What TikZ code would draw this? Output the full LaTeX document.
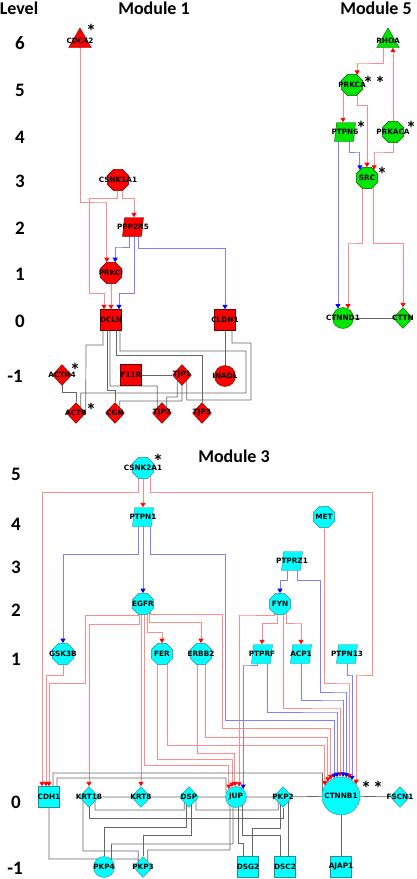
\documentclass[tikz,border=0pt]{standalone}
\usepackage{fontspec}
\setmainfont{Carlito}
\newfontfamily\lblfont{DejaVu Sans}
\usetikzlibrary{arrows.meta,shapes.geometric,positioning}
\pgfdeclarelayer{bg}
\pgfsetlayers{bg,main}
\definecolor{cyanfill}{RGB}{0,255,255}
\definecolor{cyandraw}{RGB}{40,140,150}
\definecolor{greenfill}{RGB}{0,230,0}
\definecolor{redfill}{RGB}{255,0,0}

\tikzset{
  lab/.style={font=\lblfont\bfseries\fontsize{7.3}{7.3}\selectfont, inner sep=0pt},
  nm/.style={label={[lab]center:#1}},
  oct/.style={regular polygon, regular polygon sides=8, minimum size=23pt, inner sep=0pt},
  tri/.style={regular polygon, regular polygon sides=3, minimum size=26pt, inner sep=0pt},
  sq/.style={rectangle, minimum size=21pt, inner sep=0pt},
  dia/.style={diamond, minimum width=19pt, minimum height=21pt, inner sep=0pt},
  cir/.style={circle, minimum size=21pt, inner sep=0pt},
  par/.style={trapezium, trapezium left angle=83, trapezium right angle=97,
    trapezium stretches=true, minimum width=21pt, minimum height=19pt, inner sep=1pt},
  mI/.style={fill=redfill, draw=red!40!black, line width=0.4pt},
  mV/.style={fill=greenfill, draw=green!35!black, line width=0.4pt},
  mIII/.style={fill=cyanfill, draw=cyandraw, line width=0.4pt},
  rl/.style={draw=red!45, line width=0.9pt, -{Triangle[width=5pt,length=4.5pt,color=red]}},
  bl/.style={draw=blue!50, line width=0.9pt, -{Triangle[width=5pt,length=4.5pt,color=blue]}},
  gl/.style={draw=black!60, line width=0.7pt},
  hd/.style={font=\bfseries\fontsize{18}{18}\selectfont, inner sep=0pt},
  lvl/.style={font=\bfseries\fontsize{19}{19}\selectfont, inner sep=0pt},
  ast/.style={font=\bfseries\fontsize{20}{20}\selectfont, inner sep=0pt},
}

\begin{document}
\begin{tikzpicture}[x=1pt,y=-1pt]
\useasboundingbox (0,0) rectangle (416,879);

% headings
\node[hd] (hlevel) at (19,8) {Level};
\node[hd] (hmodI) at (154,8) {Module 1};
\node[hd] (hmodV) at (376,8) {Module 5};
\node[hd] (hmodIII) at (234,456) {Module 3};

% levels
\node[lvl] (lvI6) at (20,43) {6};
\node[lvl] (lvI5) at (20,90) {5};
\node[lvl] (lvI4) at (20,137) {4};
\node[lvl] (lvI3) at (20,181) {3};
\node[lvl] (lvI2) at (20,228) {2};
\node[lvl] (lvI1) at (20,274) {1};
\node[lvl] (lvI0) at (20,321) {0};
\node[lvl] (lvIm) at (15,376) {-1};
\node[lvl] (lvIII5) at (16,474) {5};
\node[lvl] (lvIII4) at (16,524) {4};
\node[lvl] (lvIII3) at (16,567) {3};
\node[lvl] (lvIII2) at (16,610) {2};
\node[lvl] (lvIII1) at (16,659) {1};
\node[lvl] (lvIII0) at (16,802) {0};
\node[lvl] (lvIIIm) at (15,868) {-1};

% module 1
\node[tri,mI,nm=CDC42] (cdc42) at (80,41) {};
\node[oct,mI,nm=CSNK1A1] (csnk1a1) at (118,180) {};
\node[par,mI,nm=PPP2R5] (ppp2r5) at (133,227) {};
\node[oct,mI,nm=PRKCI] (prkci) at (111,273) {};
\node[sq,mI,nm=OCLN] (ocln) at (111,320) {};
\node[sq,mI,nm=CLDN1] (cldn1) at (225,320) {};
\node[dia,mI,nm=ACTN4] (actn4) at (62,375) {};
\node[sq,mI,nm=F11R] (f11r) at (131,375) {};
\node[dia,mI,nm=TJP1] (tjp1) at (182,375) {};
\node[cir,mI,nm=INADL] (inadl) at (225,376) {};
\node[dia,mI,nm=ACTB] (actb) at (76,413) {};
\node[dia,mI,nm=CGN] (cgn) at (115,413) {};
\node[dia,mI,nm=TJP2] (tjp2) at (162,413) {};
\node[dia,mI,nm=TJP3] (tjp3) at (202,413) {};

% module 5
\node[tri,mV,nm=RHOA] (rhoa) at (388,41) {};
\node[oct,mV,nm=PRKCA] (prkca) at (352,85) {};
\node[par,mV,nm=PTPN6] (ptpn6) at (345,132) {};
\node[oct,mV,nm=PRKACA] (prkaca) at (393,132) {};
\node[oct,mV,nm=SRC] (src) at (367,178) {};
\node[cir,mV,nm=CTNND1] (ctnnd1) at (343,318) {};
\node[dia,mV,nm=CTTN] (cttn) at (403,318) {};

% module 3
\node[oct,mIII,nm=CSNK2A1] (csnk2a1) at (143,468) {};
\node[par,mIII,nm=PTPN1] (ptpn1) at (143,517) {};
\node[oct,mIII,nm=MET] (met) at (324,517) {};
\node[par,mIII,nm=PTPRZ1] (ptprz1) at (292,561) {};
\node[oct,mIII,nm=EGFR] (egfr) at (143,604) {};
\node[oct,mIII,nm=FYN] (fyn) at (280,604) {};
\node[oct,mIII,nm=GSK3B] (gsk3b) at (63,654) {};
\node[oct,mIII,nm=FER] (fer) at (162,654) {};
\node[oct,mIII,nm=ERBB2] (erbb2) at (201,654) {};
\node[par,mIII,nm=PTPRF] (ptprf) at (262,654) {};
\node[par,mIII,nm=ACP1] (acp1) at (301,654) {};
\node[par,mIII,nm=PTPN13] (ptpn13) at (347,654) {};
\node[sq,mIII,nm=CDH1] (cdh1) at (49,797) {};
\node[dia,mIII,nm=KRT18] (krt18) at (89,797) {};
\node[dia,mIII,nm=KRT8] (krt8) at (141,797) {};
\node[dia,mIII,nm=DSP] (dsp) at (189,797) {};
\node[cir,mIII,nm=JUP] (jup) at (236,797) {};
\node[dia,mIII,nm=PKP2] (pkp2) at (283,797) {};
\node[circle,minimum size=38pt,inner sep=0pt,mIII,nm=CTNNB1] (ctnnb1) at (341,796) {};
\node[dia,mIII,nm=FSCN1] (fscn1) at (400,797) {};
\node[cir,mIII,nm=PKP4] (pkp4) at (104,867) {};
\node[dia,mIII,nm=PKP3] (pkp3) at (143,867) {};
\node[sq,mIII,nm=DSG2] (dsg2) at (248,867) {};
\node[sq,mIII,nm=DSC2] (dsc2) at (285,867) {};
\node[sq,mIII,nm=AJAP1] (ajap1) at (341,867) {};

% stars
\node[ast] (sCdc) at (91,31) {*};
\node[ast] (sActn) at (75,370) {*};
\node[ast] (sActb) at (91,410) {*};
\node[ast] (sPrkca) at (374,83) {*\kern2pt*};
\node[ast] (sPtpn) at (361,128) {*};
\node[ast] (sPrkaca) at (411,128) {*};
\node[ast] (sSrc) at (382,174) {*};
\node[ast] (sCsnk) at (158,461) {*};
\node[ast] (sCtnnb) at (372,788) {*\kern2pt*};

\begin{pgfonlayer}{bg}
% module 1
\draw[rl] (cdc42.center) |- (107,202) -| (prkci.111);
\draw[rl] ([xshift=-1pt]csnk1a1.center) |- (89,198) |- (104,293) -| ([xshift=-7pt]ocln.north);
\draw[rl] ([xshift=4pt]csnk1a1.center) |- (134,198) -| ([xshift=1pt]ppp2r5.north);
\draw[rl] (prkci.center) -- (ocln.north);
\draw[bl] ([xshift=-4pt]ppp2r5.center) |- (115,247) -| (prkci.69);
\draw[bl] ([xshift=1pt]ppp2r5.center) |- (119,293) -| ([xshift=8pt]ocln.north);
\draw[bl] ([xshift=5pt]ppp2r5.center) |- (225,248) -| (cldn1.north);

\draw[gl] ([xshift=-8pt]ocln.center) |- (86,345) -- (actb.east);
\draw[gl] (actn4.center) |- (76,392) -- (actb.north);
\draw[gl] ([xshift=-4pt]ocln.center) |- (115,390) -- (cgn.north);
\draw[gl] ([xshift=-1pt]ocln.center) |- (157.25,386) -- (tjp2.north west);
\draw[gl] ([xshift=5pt]ocln.center) |- (202,355) -- (tjp3.north);
\draw[gl] ([xshift=9pt]ocln.center) |- (246,351) |- (80.75,393) -- (actb.north east);
\draw[gl] (f11r) -- (tjp1);
\draw[gl] (tjp1.south west) |- (166.75,397) -- (tjp2.north east);
\draw[gl] (tjp1.center) |- (119.75,401) -- (cgn.north east);
\draw[gl] (cldn1) -- (inadl);
\draw[gl] ([xshift=7pt]cldn1.center) |- (251,343) |- (186.75,400) -- (tjp1.south east);

% module 5
\draw[rl] ([xshift=-5pt]rhoa.center) |- (357,63) -| (prkca.63);
\draw[rl] (prkaca.center) -- ([xshift=5pt]rhoa.south);
\draw[rl] ([xshift=-9pt]prkca.center) -- ([xshift=-2pt]ptpn6.north);
\draw[rl] ([xshift=5pt]prkca.center) |- (367,105) -| (src.north);
\draw[rl] (prkaca.center) |- (374,152) -| (src.49);
\draw[bl] ([xshift=4pt]ptpn6.center) |- (360,152) -| (src.131);
\draw[bl] ([xshift=-7pt]ptpn6.center) |- (338,250) -| (ctnnd1.118);
\draw[rl] ([xshift=-5pt]src.center) |- (348,243) -| (ctnnd1.62);
\draw[rl] ([xshift=6pt]src.center) |- (403,243) -| (cttn.north);
\draw[gl] (ctnnd1) -- (cttn);

% module 3
\draw[rl] (csnk2a1.center) -- (ptpn1.north);
\draw[rl] ([xshift=-5pt]csnk2a1.center) |- (42,492) -| ([xshift=-7pt]cdh1.north);
\draw[rl] ([xshift=7pt]csnk2a1.center) |- (372,492) |- (356,675) -| (ctnnb1.38);
\draw[rl] (gsk3b.center) |- (46,675) -| ([xshift=-3pt]cdh1.north);
\draw[rl] ([xshift=-5pt]egfr.center) |- (85,615) |- (49,683) -| (cdh1.north);
\draw[rl] ([xshift=-4pt]egfr.center) |- (89,624) -| (krt18.north);
\draw[rl] ([xshift=-2pt]egfr.center) -- (krt8.north);
\draw[rl] ([xshift=1pt]egfr.center) |- (229,765) -| (jup.132);
\draw[rl] ([xshift=4pt]egfr.center) |- (162,632) -| (fer.north);
\draw[rl] ([xshift=6pt]egfr.center) |- (201,622) -| (erbb2.north);
\draw[rl] ([xshift=7pt]egfr.center) |- (222,614) |- (331,728) -| (ctnnb1.122);
\draw[rl] ([xshift=-5pt]fer.center) |- (232,759) -| (jup.112);
\draw[rl] ([xshift=5pt]fer.center) |- (325,745) -| (ctnnb1.147);
\draw[rl] ([xshift=-4pt]erbb2.center) |- (235,753) -| (jup.96);
\draw[rl] ([xshift=4pt]erbb2.center) |- (328,737) -| (ctnnb1.133);
\draw[rl] ([xshift=-3pt]fyn.center) |- (262,623) -| (ptprf.north);
\draw[rl] ([xshift=6pt]fyn.center) |- (302,623) -| (acp1.north);
\draw[rl] ([xshift=3pt]fyn.center) |- (340,708) -| (ctnnb1.93);
\draw[rl] ([xshift=-6pt]fyn.center) |- (239,615) -| (jup.73);
\draw[rl] (met.center) |- (349,683) -| (ctnnb1.65);

\draw[bl] (ptpn1.center) -- (egfr.north);
\draw[bl] ([xshift=-5pt]ptpn1.center) |- (63,554) -| (gsk3b.north);
\draw[bl] ([xshift=7pt]ptpn1.center) |- (225,554) |- (334,720) -| (ctnnb1.111);
\draw[bl] ([xshift=-5pt]ptprz1.center) |- (280,580) -| (fyn.north);
\draw[bl] ([xshift=5pt]ptprz1.center) |- (320,580) |- (346,692) -| (ctnnb1.74);
\draw[bl] ([xshift=-5pt]ptprf.center) |- (243,665) -| (jup.48);
\draw[bl] ([xshift=5pt]ptprf.center) |- (337,712) -| (ctnnb1.102);
\draw[bl] (acp1.center) |- (343,700) -| (ctnnb1.84);
\draw[bl] (ptpn13.center) |- (352,675) -| (ctnnb1.55);

\draw[gl] (krt18) -- (krt8) -- (dsp) -- (jup) -- (pkp2) -- (ctnnb1) -- (fscn1);
\draw[gl] ([xshift=4pt]cdh1.center) |- (322.6,773) -- (ctnnb1.165);
\draw[gl] ([xshift=8pt]cdh1.center) |- (226.1,778) -- (jup.160);
\draw[gl] ([xshift=6pt]krt18.center) |- (184.25,810) -- (dsp.south west);
\draw[gl] (krt18.center) |- (283,818) -- (pkp2.south);
\draw[gl] ([xshift=7pt]dsp.center) |- (278.25,810) -- (pkp2.south west);
\draw[gl] ([xshift=-3pt]dsp.center) |- (104,827) -- (pkp4.north);
\draw[gl] ([xshift=2pt]dsp.center) |- (143,835) -- (pkp3.north);
\draw[gl] ([xshift=-3pt]jup.center) |- (111.4,844) -- (pkp4.45);
\draw[gl] ([xshift=-6pt]jup.center) |- (147.75,850) -- (pkp3.north east);
\draw[gl] ([xshift=-6pt]krt18.center) |- (138.25,851) -- (pkp3.north west);
\draw[gl] (cdh1.center) |- (138.25,859) -- (pkp3.north west);
\draw[gl] ([xshift=2pt]jup.center) |- (243,843) -- ([xshift=-5pt]dsg2.north);
\draw[gl] ([xshift=6pt]jup.center) |- (280,835) -- ([xshift=-5pt]dsc2.north);
\draw[gl] ([xshift=-3pt]pkp2.center) |- (252,828) -- ([xshift=4pt]dsg2.north);
\draw[gl] ([xshift=5pt]pkp2.center) -- ([xshift=3pt]dsc2.north);
\draw[gl] (ctnnb1) -- (ajap1);
\end{pgfonlayer}
\end{tikzpicture}
\end{document}
